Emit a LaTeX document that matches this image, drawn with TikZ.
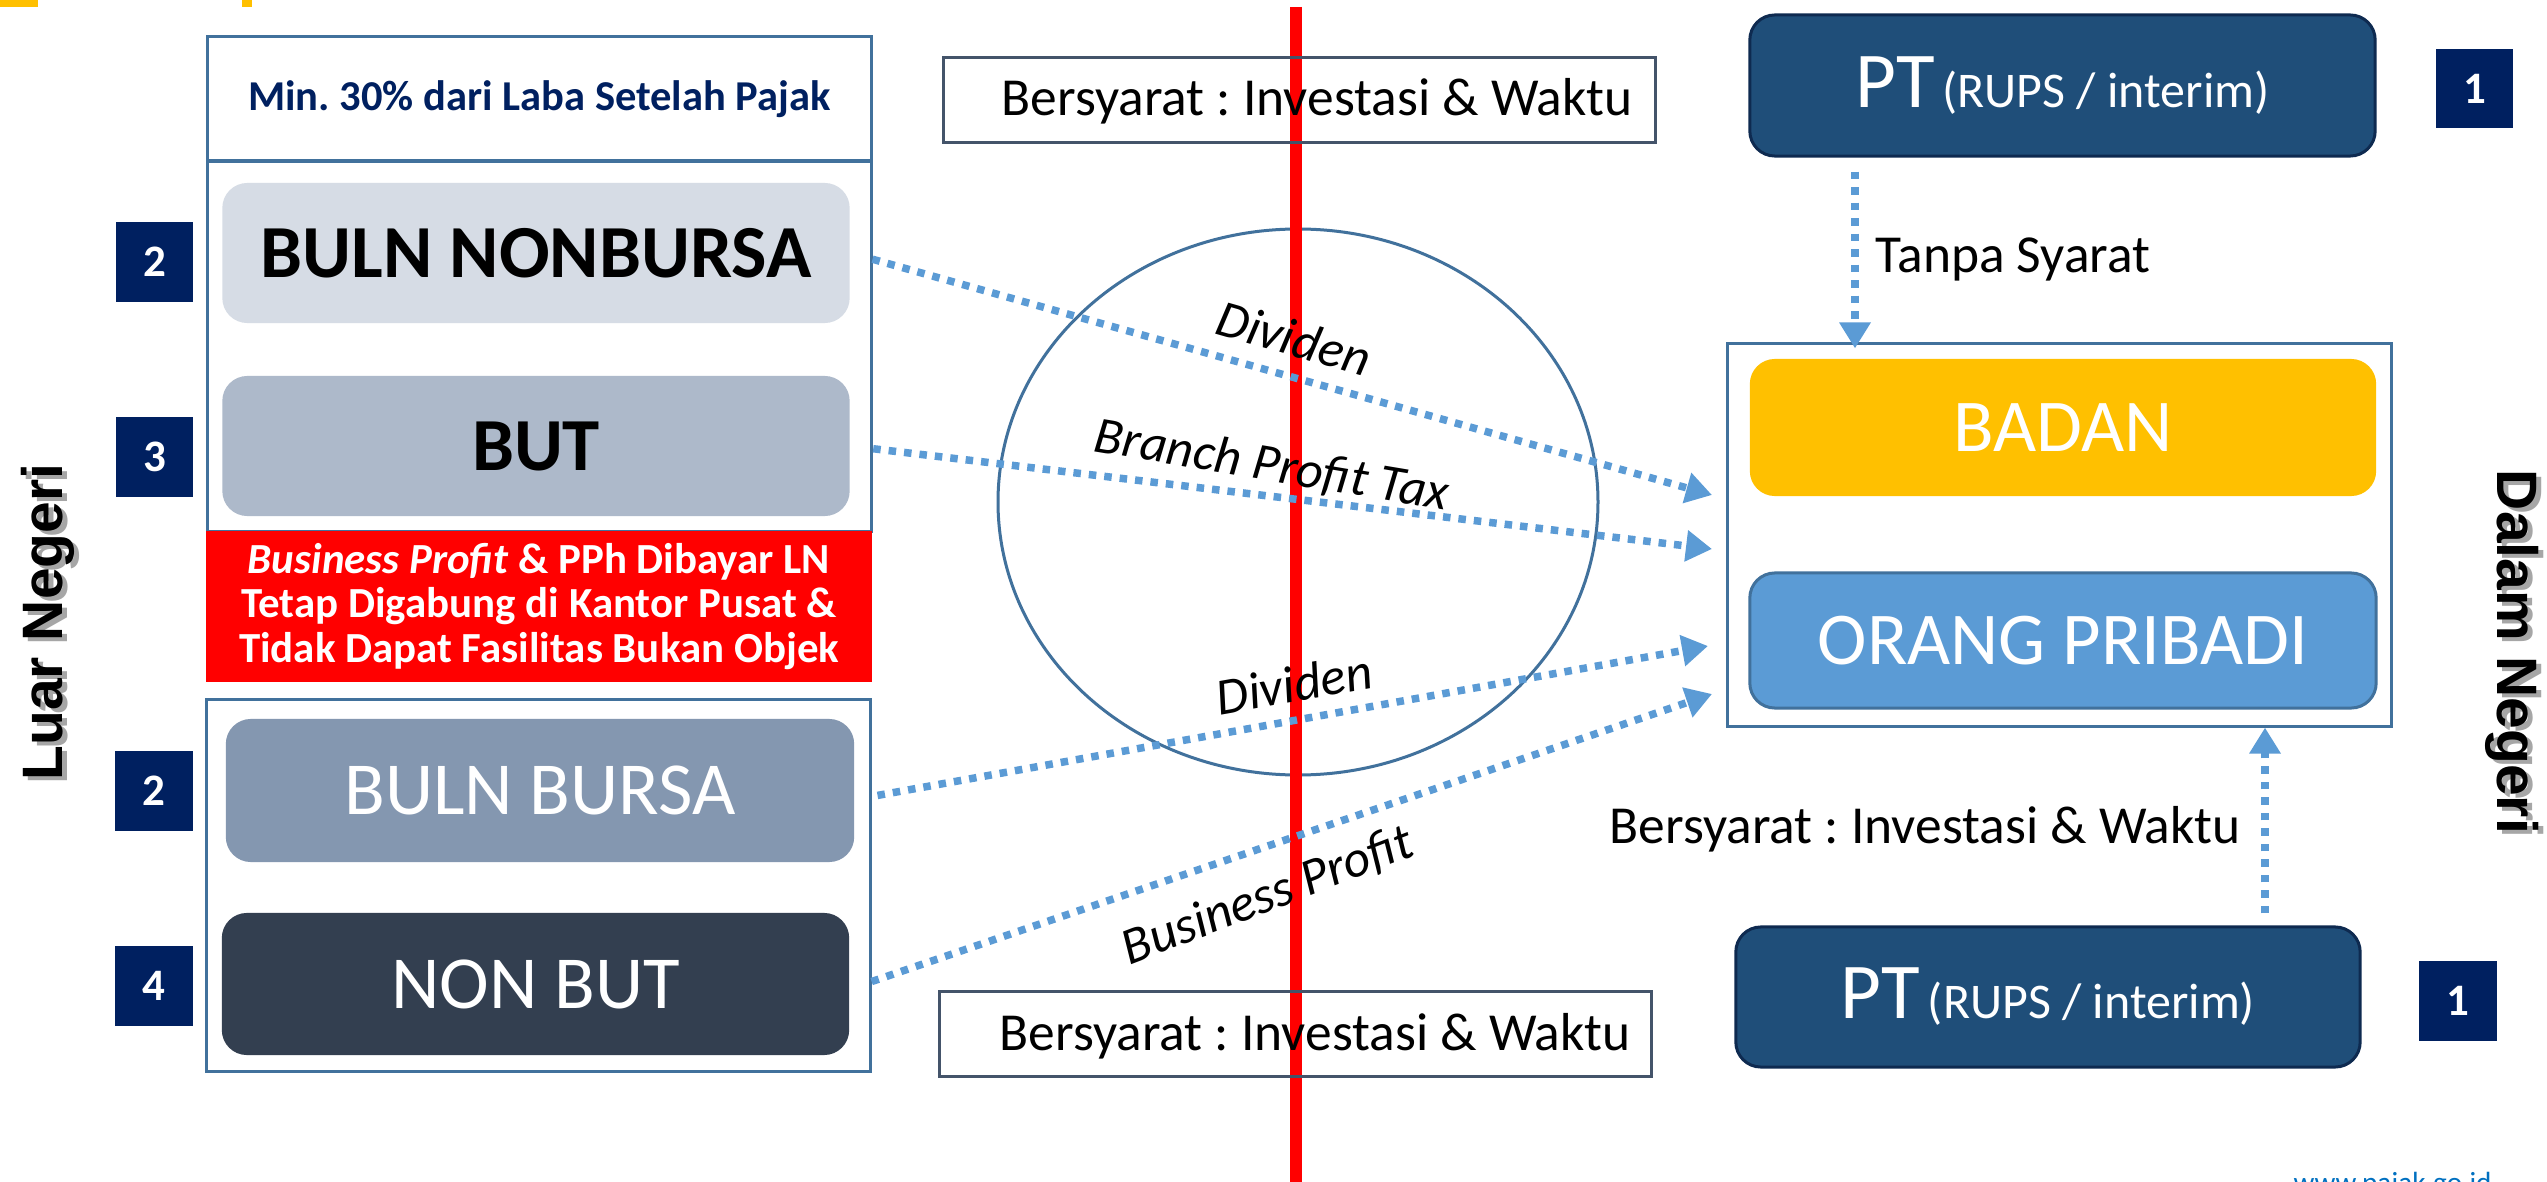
\documentclass[tikz,border=0pt]{standalone}
\usepackage{fontspec}
\setmainfont{Carlito}
\newfontfamily\arialfont{Liberation Sans}
\usetikzlibrary{arrows.meta}
\definecolor{navy}{HTML}{002060}
\definecolor{steel}{HTML}{41719C}
\definecolor{slate}{HTML}{44546A}
\definecolor{arrowblue}{HTML}{5B9BD5}
\definecolor{ptblue}{HTML}{1F4E79}
\definecolor{ptborder}{HTML}{0E2A50}
\definecolor{gold}{HTML}{FFC000}
\definecolor{lightbox}{HTML}{D6DCE5}
\definecolor{midbox}{HTML}{ADB9CA}
\definecolor{bursabox}{HTML}{8497B0}
\definecolor{darkbox}{HTML}{333F50}
\definecolor{linkblue}{HTML}{0070C0}
\definecolor{pureRed}{HTML}{FF0000}
\frenchspacing
\tikzset{
  grp/.style={draw=steel, line width=0.03cm, inner sep=0, minimum width=6.63cm},
  rbox/.style={rectangle, rounded corners=0.25cm, inner sep=0, minimum width=6.27cm, minimum height=1.4cm, align=center},
  badge/.style={fill=navy, text=white, inner sep=0, minimum width=0.77cm, minimum height=0.79cm, font=\bfseries\fontsize{12.8pt}{14pt}\selectfont},
  condbox/.style={draw=slate, line width=0.03cm, inner sep=0, minimum width=7.11cm, minimum height=0.84cm},
  condtext/.style={inner sep=0, font=\fontsize{15.2pt}{18pt}\selectfont},
  ptbox/.style={rectangle, rounded corners=0.25cm, fill=ptblue, draw=ptborder, line width=0.03cm, inner sep=0, minimum width=6.25cm, minimum height=1.41cm, text=white},
  flow/.style={draw=arrowblue, line width=0.075cm, dash pattern=on 0.075cm off 0.08cm, -{Triangle[length=0.26cm, width=0.3cm]}},
  lbl/.style={inner sep=0, font=\itshape\fontsize{14.8pt}{17pt}\selectfont},
  side/.style={inner sep=0, font=\arialfont\bfseries\fontsize{16.2pt}{19pt}\selectfont},
  bigbold/.style={font=\bfseries\fontsize{21.3pt}{25pt}\selectfont},
  bigreg/.style={text=white, font=\fontsize{21.3pt}{25pt}\selectfont},
}
\begin{document}
\begin{tikzpicture}[x=0.01cm, y=-0.01cm]
\clip (0,0) rectangle (2547,1182);
\fill[white] (0,0) rectangle (2547,1182);
% top yellow bits
\fill[gold] (0,0) rectangle (38,7);
\fill[gold] (242,0) rectangle (252,7);
% ellipse and red divider
\draw[steel, line width=0.03cm] (1298,502) ellipse [x radius=300, y radius=273];
\coordinate (rtop) at (1296,7);
\coordinate (rbot) at (1296,1182);
\draw[pureRed, line width=0.12cm] (rtop) -- (rbot);
% left groups
\node[grp, minimum height=1.24cm, text=navy, font=\bfseries\fontsize{12.1pt}{14pt}\selectfont] (hdr) at (539.5,99) {Min. 30\% dari Laba Setelah Pajak};
\node[grp, minimum height=3.70cm] (grpA) at (539.5,346) {};
\node[fill=pureRed, inner sep=0, minimum width=6.66cm, minimum height=1.51cm, text=white, align=center,
      font=\bfseries\fontsize{12.2pt}{12.7pt}\selectfont] (redbox) at (539,606.5)
      {\textit{Business Profit} \& PPh Dibayar LN\\Tetap Digabung di Kantor Pusat \&\\Tidak Dapat Fasilitas Bukan Objek};
\node[grp, minimum height=3.71cm] (grpB) at (538.5,885.5) {};
\node[rbox, fill=lightbox, bigbold] (bn) at (536,253) {BULN NONBURSA};
\node[rbox, fill=midbox, bigbold] (but) at (536,446) {BUT};
\node[rbox, fill=bursabox, bigreg, minimum width=6.28cm, minimum height=1.43cm] (bb) at (540,790.5) {BULN BURSA};
\node[rbox, fill=darkbox, bigreg, minimum height=1.42cm] (nb) at (535.5,984) {NON BUT};
% badges left
\node[badge] (b2a) at (154.5,262) {2};
\node[badge] (b3) at (154.5,457) {3};
\node[badge] (b2b) at (154,791) {2};
\node[badge] (b4) at (154,986) {4};
% condition boxes
\node[condbox] (cb1) at (1299.5,100) {};
\node[condtext, anchor=base east] (cb1t) at (1633,116) {Bersyarat : Investasi \& Waktu};
\node[condbox] (cb2) at (1295.5,1034) {};
\node[condtext, anchor=base east] (cb2t) at (1631,1050) {Bersyarat : Investasi \& Waktu};
% right side
\node[ptbox] (pt1) at (2062.5,85.5) {{\fontsize{22.5pt}{26pt}\selectfont PT} {\fontsize{14.2pt}{17pt}\selectfont (RUPS / interim)}};
\node[badge] (b1a) at (2474.5,88.5) {1};
\node[draw=steel, line width=0.03cm, inner sep=0, minimum width=6.63cm, minimum height=3.82cm] (cont) at (2059.5,535) {};
\node[rbox, fill=gold, text=white, minimum width=6.26cm, minimum height=1.37cm, font=\fontsize{21.2pt}{25pt}\selectfont] (badan) at (2063,427.5) {BADAN};
\node[rbox, fill=arrowblue, draw=steel, line width=0.03cm, text=white, minimum width=6.26cm, minimum height=1.35cm, font=\fontsize{21.2pt}{25pt}\selectfont] (orang) at (2063,640.5) {ORANG PRIBADI};
\node[ptbox, minimum width=6.24cm, minimum height=1.40cm] (pt2) at (2048,997) {{\fontsize{22.5pt}{26pt}\selectfont PT} {\fontsize{14.2pt}{17pt}\selectfont (RUPS / interim)}};
\node[badge] (b1b) at (2458,1001) {1};
\node[condtext, anchor=base west] (tanpa) at (1875,273) {Tanpa Syarat};
\node[condtext, anchor=base east] (bers) at (2241,843) {Bersyarat : Investasi \& Waktu};
% vertical arrows
\coordinate (tx) at (1855,0);
\coordinate (ux) at (2265,0);
\draw[flow, shorten <=0.14cm, shorten >=-0.06cm] (pt1.south -| tx) -- (cont.north -| tx);
\draw[flow, shorten <=0.12cm] (pt2.north -| ux) -- (cont.south -| ux);
% flow arrows
\coordinate (t1) at (1712,495);
\coordinate (t2) at (1712,549);
\coordinate (t3) at (1708,646);
\coordinate (t4) at (1712,694);
\draw[flow, shorten <=0.23cm] (bn.east) -- (t1);
\draw[flow, shorten <=0.23cm] (but.east) -- (t2);
\draw[flow, shorten <=0.23cm] ([yshift=-0.09cm]bb.east) -- (t3);
\draw[flow, shorten <=0.23cm] ([yshift=-0.05cm]nb.east) -- (t4);
% flow labels
\node[lbl, rotate=-16] (ldiv1) at (1294,338) {Dividen};
\node[lbl, rotate=-9.5] (lbpt) at (1272,466) {Branch Profit Tax};
\node[lbl, rotate=10] (ldiv2) at (1294,684) {Dividen};
\node[lbl, rotate=21] (lbp) at (1268,896) {Business Profit};
% side titles
\node[side, rotate=90, text=black!35] at (53,626) {Luar Negeri};
\node[side, rotate=90] (luar) at (48,622) {Luar Negeri};
\node[side, rotate=-90, text=black!35] at (2517,656) {Dalam Negeri};
\node[side, rotate=-90] (dalam) at (2512,652) {Dalam Negeri};
% footer
\node[inner sep=0, anchor=base west, text=linkblue, font=\fontsize{8.3pt}{10pt}\selectfont] (web) at (2293,1192) {www.pajak.go.id};
\end{tikzpicture}
\end{document}
